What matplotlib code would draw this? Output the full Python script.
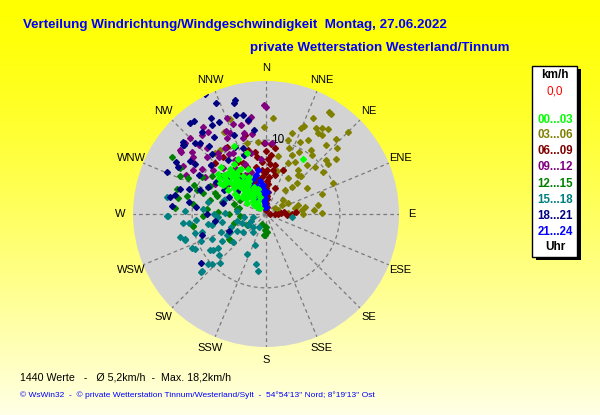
import numpy as np
import matplotlib
matplotlib.use("Agg")
import matplotlib.pyplot as plt
from matplotlib.patches import Rectangle

plt.rcParams['font.family'] = ['Liberation Sans', 'DejaVu Sans']

# wind direction (deg, compass) and speed (km/h) per time slot
dir_03_06 = [4, 359, 33, 23, 22, 30, 33, 33, 45, 18, 25, 30, 17, 41, 47, 35, 38, 24, 23, 40,
             36, 46, 54, 48, 51, 21, 31, 38, 44, 45, 80, 85, 89, 80, 50, 63, 56, 72, 78, 84,
             32, 35, 339, 333, 320, 324, 354, 345, 70, 75, 60, 28, 42, 12, 15,
             26, 36, 43, 52, 65, 19, 29, 40, 58, 90, 88]
spd_03_06 = [13.0, 11.8, 16.2, 13.0, 12.5, 13.4, 13.0, 13.9, 15.6, 11.5, 10.8, 11.5, 10.4, 12.4, 13.1, 10.5, 10.1, 8.7, 7.5, 8.6,
             7.4, 9.2, 9.6, 11.0, 10.8, 6.4, 5.7, 4.1, 5.1, 5.9, 5.4, 6.5, 7.6, 7.1, 3.0, 3.3, 1.5, 1.7, 4.0, 4.9,
             16.2, 13.1, 13.7, 12.4, 10.7, 10.7, 9.8, 9.9, 8.0, 4.5, 2.5, 9.5, 7.0, 8.0, 6.0,
             14.5, 14.2, 13.8, 12.0, 10.0, 9.5, 8.0, 6.8, 6.6, 5.0, 3.0]

dir_06_09 = [2, 4, 1, 3, 2, 5, 0, 3, 2, 4, 358, 1,
             88, 90, 86, 92, 89, 87, 91, 85,
             10, 19, 347, 13, 21, 5, 355,
             358, 351, 336, 319, 317, 354, 339, 323, 315,
             345, 330, 310, 325, 340, 300, 2, 8,
             350, 344, 338, 332, 326, 356, 5, 9, 348, 342, 335, 328, 0, 4]
spd_06_09 = [0.5, 1.0, 1.5, 2.0, 2.5, 3.0, 3.5, 4.0, 4.5, 5.0, 5.5, 5.9,
             0.5, 1.2, 2.0, 2.8, 3.5, 4.0, 1.6, 2.4,
             6.7, 3.7, 4.7, 5.4, 6.4, 6.8, 6.0,
             9.6, 7.8, 7.6, 7.4, 5.7, 5.0, 5.9, 9.6, 9.7,
             11.0, 10.5, 6.5, 4.0, 3.0, 4.5, 7.5, 9.0,
             8.5, 9.0, 6.8, 8.0, 6.5, 7.0, 8.0, 6.0, 6.5, 4.5, 4.8, 5.2, 8.5, 9.5]

dir_09_12 = [336, 333, 325, 321, 306, 311, 308, 314, 310, 317, 345, 343, 346, 332, 337, 301,
             301, 359, 359, 5, 0, 351, 349, 315, 307, 310, 306, 320, 328, 300, 340, 355,
             322, 328, 334, 340, 318, 312, 305, 326, 332, 344, 350, 316, 324, 338, 300, 296, 330, 310]
spd_09_12 = [12.0, 11.5, 13.6, 13.7, 14.3, 14.6, 12.6, 11.1, 9.3, 8.5, 11.3, 10.8, 8.5, 9.4, 7.3, 11.6,
             9.6, 14.7, 9.6, 9.6, 14.5, 13.3, 12.8, 14.6, 14.5, 13.0, 12.3, 10.0, 10.5, 13.0, 6.0, 7.5,
             10.5, 9.5, 12.5, 13.0, 12.0, 10.0, 10.5, 7.5, 6.0, 12.5, 11.0, 13.0, 14.5, 14.0, 8.0, 12.0, 8.5, 6.5]

dir_12_15 = [301, 298, 295, 286, 280, 289, 290, 285, 261, 234, 183, 180, 178, 185,
             274, 261, 236, 280, 282, 275, 270, 265, 255, 300, 292, 240, 200, 183,
             296, 292, 288, 283, 278, 303, 307, 299, 287, 272, 268, 294, 305, 310, 284]
spd_12_15 = [14.9, 13.2, 11.6, 12.5, 12.1, 9.9, 7.0, 6.2, 10.0, 6.0, 2.9, 1.8, 2.5, 2.9,
             12.3, 10.0, 6.0, 4.0, 3.8, 8.0, 5.0, 3.5, 4.5, 10.0, 7.5, 3.0, 1.5, 2.2,
             8.5, 10.5, 9.0, 11.0, 10.0, 6.5, 5.0, 4.0, 4.5, 6.5, 8.5, 12.8, 9.0, 7.5, 7.8]

dir_15_18 = [269, 264, 253, 244, 237, 236, 229, 227, 229, 228, 223, 205, 191, 188, 230, 239, 280, 269, 255,
             245, 228, 97, 240, 250, 260, 270, 275, 265, 258, 248, 232, 215, 225, 210, 200, 245, 255,
             262, 257, 250, 243, 238, 276, 271, 266, 260, 254, 247, 241, 235, 252, 263, 272, 282, 288, 258, 246]
spd_15_18 = [13.4, 11.3, 11.5, 10.7, 9.0, 8.7, 8.5, 10.0, 10.4, 11.6, 9.1, 6.0, 6.9, 7.8, 5.8, 2.9, 13.6, 13.2, 12.0,
             8.0, 11.8, 3.5, 4.5, 5.0, 6.0, 7.0, 8.5, 9.5, 7.5, 6.5, 4.0, 3.0, 2.5, 2.0, 4.5, 11.0, 10.0,
             3.0, 4.0, 3.5, 5.5, 7.0, 4.0, 5.5, 6.5, 8.0, 9.0, 9.5, 6.0, 8.0, 11.5, 10.5, 11.0, 8.0, 6.0, 1.8, 2.2]

dir_18_21 = [333, 344, 343, 349, 333, 322, 329, 310, 315, 293, 275, 286, 295, 282, 280, 252, 233,
             311, 300, 305, 290, 320, 338, 270, 262, 245, 300, 310, 325, 347, 317, 322,
             318, 326, 335, 341, 305, 312, 298, 288, 279, 303, 315, 327, 339, 322, 308, 295, 285, 276,
             330, 345, 352, 336, 320, 300, 310]
spd_18_21 = [18.3, 15.6, 14.0, 12.9, 14.0, 15.9, 14.1, 14.6, 13.5, 14.5, 12.8, 12.1, 8.6, 12.6, 13.2, 9.1, 11.0,
             14.8, 10.5, 12.5, 9.5, 12.0, 11.5, 8.0, 7.0, 5.5, 6.5, 8.0, 9.0, 13.7, 13.1, 14.0,
             11.0, 12.5, 10.0, 9.5, 11.8, 10.0, 13.5, 11.0, 10.5, 8.0, 7.0, 6.0, 8.5, 4.5, 5.0, 5.5, 6.0, 9.5,
             15.0, 16.0, 11.5, 16.5, 16.0, 14.0, 14.5]

dir_21_24 = [355, 356, 354, 357, 353, 355, 350, 345, 330, 320, 340, 2,
             348, 352, 358, 343, 338, 333, 328, 346, 0, 350]
spd_21_24 = [1.5, 2.0, 2.5, 3.0, 3.5, 4.0, 4.6, 3.0, 2.5, 3.5, 5.0, 3.0,
             1.0, 1.8, 2.2, 4.0, 3.0, 4.2, 5.5, 5.5, 1.0, 6.0]

dir_00_03 = [305, 310, 315, 320, 325, 330, 308, 312, 318, 322, 328, 335, 303, 309, 314, 319, 324,
             331, 306, 311, 316, 321, 327, 333, 300, 340, 335, 319, 343, 34, 315, 312, 325, 318,
             302, 304, 307, 309, 311, 313, 316, 317, 320, 323, 326, 329, 332, 336, 338, 342,
             301, 306, 313, 318, 323, 329, 334, 340, 304, 310, 316, 322, 328, 307, 313, 319, 325]
spd_00_03 = [2.0, 2.2, 2.5, 2.8, 3.0, 3.2, 3.6, 4.0, 4.4, 4.8, 5.2, 5.5, 5.0, 5.6, 6.0, 6.3, 6.6,
             6.9, 7.0, 7.3, 7.6, 7.8, 8.0, 8.3, 4.5, 3.0, 10.2, 7.4, 8.6, 9.0, 1.2, 6.5, 4.2, 5.4,
             6.0, 7.5, 8.0, 6.8, 5.8, 7.7, 5.0, 7.0, 6.0, 5.5, 4.5, 6.0, 5.0, 4.0, 6.5, 3.5,
             3.0, 4.0, 3.4, 3.8, 3.6, 4.8, 3.8, 2.5, 7.0, 8.4, 8.8, 7.2, 7.0, 1.5, 1.8, 1.6, 1.9]

slots = ['00...03', '03...06', '06...09', '09...12', '12...15', '15...18', '18...21', '21...24']
slot_colors = ['#00ff00', '#808000', '#800000', '#800080', '#008000', '#008080', '#000080', '#0000ff']
compass = ['N', 'NNE', 'NE', 'ENE', 'E', 'ESE', 'SE', 'SSE',
           'S', 'SSW', 'SW', 'WSW', 'W', 'WNW', 'NW', 'NNW']

series = [(dir_03_06, spd_03_06, 1), (dir_06_09, spd_06_09, 2), (dir_09_12, spd_09_12, 3),
          (dir_12_15, spd_12_15, 4), (dir_15_18, spd_15_18, 5), (dir_18_21, spd_18_21, 6),
          (dir_21_24, spd_21_24, 7), (dir_00_03, spd_00_03, 0)]

fig = plt.figure(figsize=(6, 4.15), dpi=100)

# yellow background fading downwards
bg = fig.add_axes([0, 0, 1, 1])
t = np.linspace(0, 1, 256)[:, None]
grad = np.ones((256, 1, 3))
grad[:, 0, 2] = (0.90 * t**1.3)[:, 0]
bg.imshow(grad, aspect='auto', extent=[0, 1, 0, 1])
bg.axis('off')

ax = fig.add_axes([0.2217, 0.1639, 0.4433, 0.641], projection='polar')
ax.set_theta_zero_location('N')
ax.set_theta_direction(-1)
ax.set_ylim(0, 18)
ax.set_facecolor('#d3d3d3')
ax.grid(False)
ax.set_xticks([])
ax.set_yticks([])
ax.spines['polar'].set_visible(False)

for i in range(16):
    a = np.deg2rad(i * 22.5)
    ax.plot([a, a], [0, 18], color='#7a7a7a', lw=0.9, ls=(0, (3, 2.5)), zorder=1)
    ax.text(a, 19.7, compass[i], ha='center', va='center', fontsize=8, clip_on=False)
ring = np.linspace(0, 2 * np.pi, 361)
ax.plot(ring, np.full_like(ring, 10), color='#7a7a7a', lw=0.9, ls=(0, (3, 2.5)), zorder=1)
ax.text(np.deg2rad(9), 10.1, '10', ha='center', va='center', fontsize=8.5, zorder=2)

for d, s, k in series:
    ax.plot(np.deg2rad(d), s, ls='none', marker='D', ms=3.0, color=slot_colors[k], zorder=3)

# titles
fig.text(23 / 600, 1 - 25 / 415, 'Verteilung Windrichtung/Windgeschwindigkeit  Montag, 27.06.2022',
         color='#0000ff', fontsize=9.6, fontweight='bold', va='center')
fig.text(250 / 600, 1 - 48 / 415, 'private Wetterstation Westerland/Tinnum',
         color='#0000ff', fontsize=9.6, fontweight='bold', va='center')

# legend box with shadow
fig.patches.append(Rectangle((536 / 600, (415 - 260) / 415), 45 / 600, 191 / 415,
                             transform=fig.transFigure, facecolor='black', edgecolor='none'))
fig.patches.append(Rectangle((532 / 600, (415 - 257) / 415), 45 / 600, 191 / 415,
                             transform=fig.transFigure, facecolor='white', edgecolor='black', lw=1))
lx = 555 / 600
fig.text(lx, 1 - 75 / 415, 'km/h', ha='center', va='center', fontsize=8.5, fontweight='bold')
fig.text(lx, 1 - 91 / 415, '0,0', ha='center', va='center', fontsize=8.5, color='#ff0000')
leg_y = [120, 135, 151, 167, 184, 200, 216, 232]
for lab, c, y in zip(slots, slot_colors, leg_y):
    fig.text(lx, 1 - y / 415, lab, ha='center', va='center', fontsize=8.3, fontweight='bold', color=c)
fig.text(lx, 1 - 247 / 415, 'Uhr', ha='center', va='center', fontsize=8.5, fontweight='bold')

# footer
fig.text(20 / 600, 1 - 377 / 415, '1440 Werte   -   Ø 5,2km/h  -  Max. 18,2km/h',
         fontsize=7.7, va='center')
fig.text(20 / 600, 1 - 395 / 415,
         "© WsWin32  -  © private Wetterstation Tinnum/Westerland/Sylt  -  54°54'13'' Nord; 8°19'13'' Ost",
         fontsize=6, color='#0000ff', va='center')

fig.savefig('out.png', dpi=100)
